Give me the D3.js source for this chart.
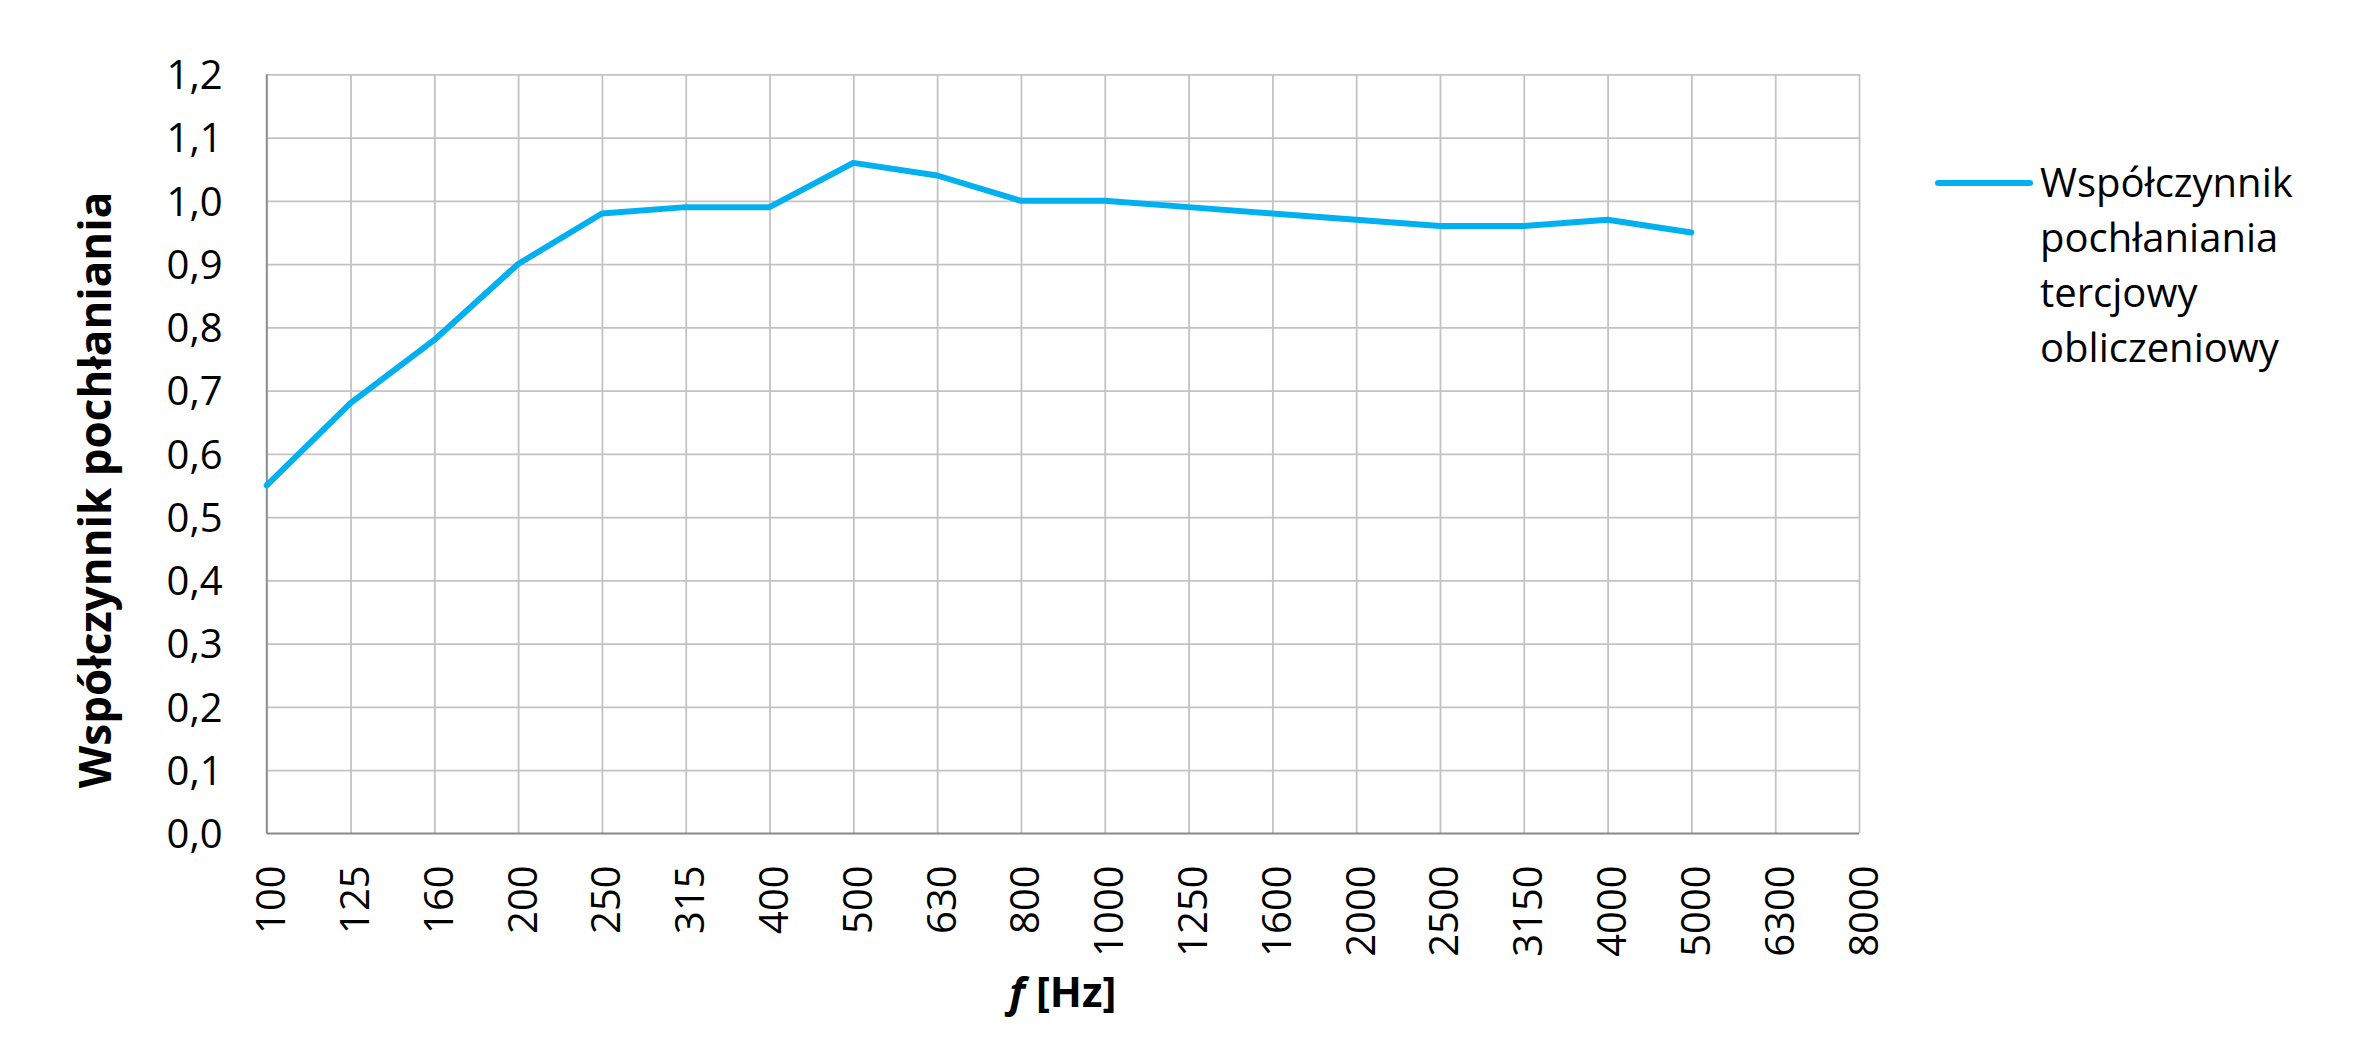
<!DOCTYPE html>
<html>
<head>
<meta charset="utf-8">
<script src="https://cdn.jsdelivr.net/npm/d3@7"></script>
<style>
  body { margin: 0; background: #fff; }
  svg { display: block; font-family: "Open Sans", "Segoe UI", sans-serif; }
  .tick text { fill: #000; }
</style>
</head>
<body>
<svg width="2358" height="1051"></svg>
<script>
// tercjowe pasma czestotliwosci [Hz]
let freqs = ["100", "125", "160", "200", "250", "315", "400", "500", "630", "800",
             "1000", "1250", "1600", "2000", "2500", "3150", "4000", "5000", "6300", "8000"];
// wspolczynnik pochlaniania (brak dla 6300 i 8000)
let alphaValues = [0.55, 0.68, 0.78, 0.90, 0.98, 0.99, 0.99, 1.06, 1.04, 1.00,
                   1.00, 0.99, 0.98, 0.97, 0.96, 0.96, 0.97, 0.95];
let yTicks = [0, 0.1, 0.2, 0.3, 0.4, 0.5, 0.6, 0.7, 0.8, 0.9, 1.0, 1.1, 1.2];
let seriesName = ["Współczynnik", "pochłaniania", "tercjowy", "obliczeniowy"];
let yTitle = "Współczynnik pochłaniania";

let svg = d3.select("svg");
let margin = { top: 74.3, left: 266.7 },
    width = 1859 - margin.left,
    height = 833.3 - margin.top;

let pl = d3.formatLocale({ decimal: ",", thousands: " ", grouping: [3], currency: ["", " zł"] });
let fmt = pl.format(".1f");

let x = d3.scalePoint()
    .domain(freqs)
    .range([0, width]);

let y = d3.scaleLinear()
    .domain([0, 1.2])
    .range([height, 0]);

let g = svg.append("g")
    .attr("transform", "translate(" + margin.left + "," + margin.top + ")");

// siatka pozioma + etykiety osi Y
let yAxis = g.append("g")
    .call(d3.axisLeft(y).tickValues(yTicks).tickSize(-width).tickPadding(45).tickFormat(fmt))
    .attr("font-family", null)
    .attr("font-size", null);
yAxis.select(".domain").remove();
yAxis.selectAll(".tick line").attr("stroke", "#c3c3c3").attr("stroke-width", 1.8);
yAxis.selectAll(".tick text")
    .attr("x", -44)
    .attr("dy", "0.357em")
    .style("font-size", "40px");

// siatka pionowa + etykiety osi X
let xAxis = g.append("g")
    .attr("transform", "translate(0," + height + ")")
    .call(d3.axisBottom(x).tickSize(-height).tickSizeOuter(0))
    .attr("font-family", null)
    .attr("font-size", null);
xAxis.select(".domain").remove();
xAxis.selectAll(".tick line").attr("stroke", "#c3c3c3").attr("stroke-width", 1.8);
xAxis.selectAll(".tick text")
    .attr("transform", "translate(18,32) rotate(-90)")
    .attr("x", 0)
    .attr("y", 0)
    .attr("dy", 0)
    .attr("text-anchor", "end")
    .style("font-size", "40px");

// osie (lewa i dolna ciemniejsze)
g.append("line")
    .attr("x1", 0).attr("x2", 0)
    .attr("y1", 0).attr("y2", height)
    .attr("stroke", "#8a8a8a").attr("stroke-width", 1.8);
g.append("line")
    .attr("x1", 0).attr("x2", width)
    .attr("y1", height).attr("y2", height)
    .attr("stroke", "#8a8a8a").attr("stroke-width", 1.8);

// seria
let data = alphaValues.map((v, i) => ({ f: freqs[i], v: v }));
let line = d3.line()
    .x(d => x(d.f))
    .y(d => y(d.v));

g.append("path")
    .datum(data)
    .attr("fill", "none")
    .attr("stroke", "#00b0f0")
    .attr("stroke-width", 6)
    .attr("stroke-linejoin", "round")
    .attr("stroke-linecap", "round")
    .attr("d", line);

// tytul osi Y
svg.append("text")
    .attr("transform", "translate(111,490) rotate(-90)")
    .attr("text-anchor", "middle")
    .style("font-size", "44px")
    .style("font-weight", "bold")
    .text(yTitle);

// tytul osi X
let xt = svg.append("text")
    .attr("x", margin.left + width / 2)
    .attr("y", 1007)
    .attr("text-anchor", "middle")
    .style("font-size", "42px")
    .style("font-weight", "bold");
xt.append("tspan").style("font-style", "italic").text("f");
xt.append("tspan").text(" [Hz]");

// legenda
svg.append("line")
    .attr("x1", 1938).attr("x2", 2030)
    .attr("y1", 183).attr("y2", 183)
    .attr("stroke", "#00b0f0")
    .attr("stroke-width", 6)
    .attr("stroke-linecap", "round");

svg.append("g").selectAll("text")
    .data(seriesName)
    .enter()
    .append("text")
    .attr("x", 2040)
    .attr("y", (d, i) => 197 + i * 55)
    .style("font-size", "40px")
    .text(d => d);
</script>
</body>
</html>
